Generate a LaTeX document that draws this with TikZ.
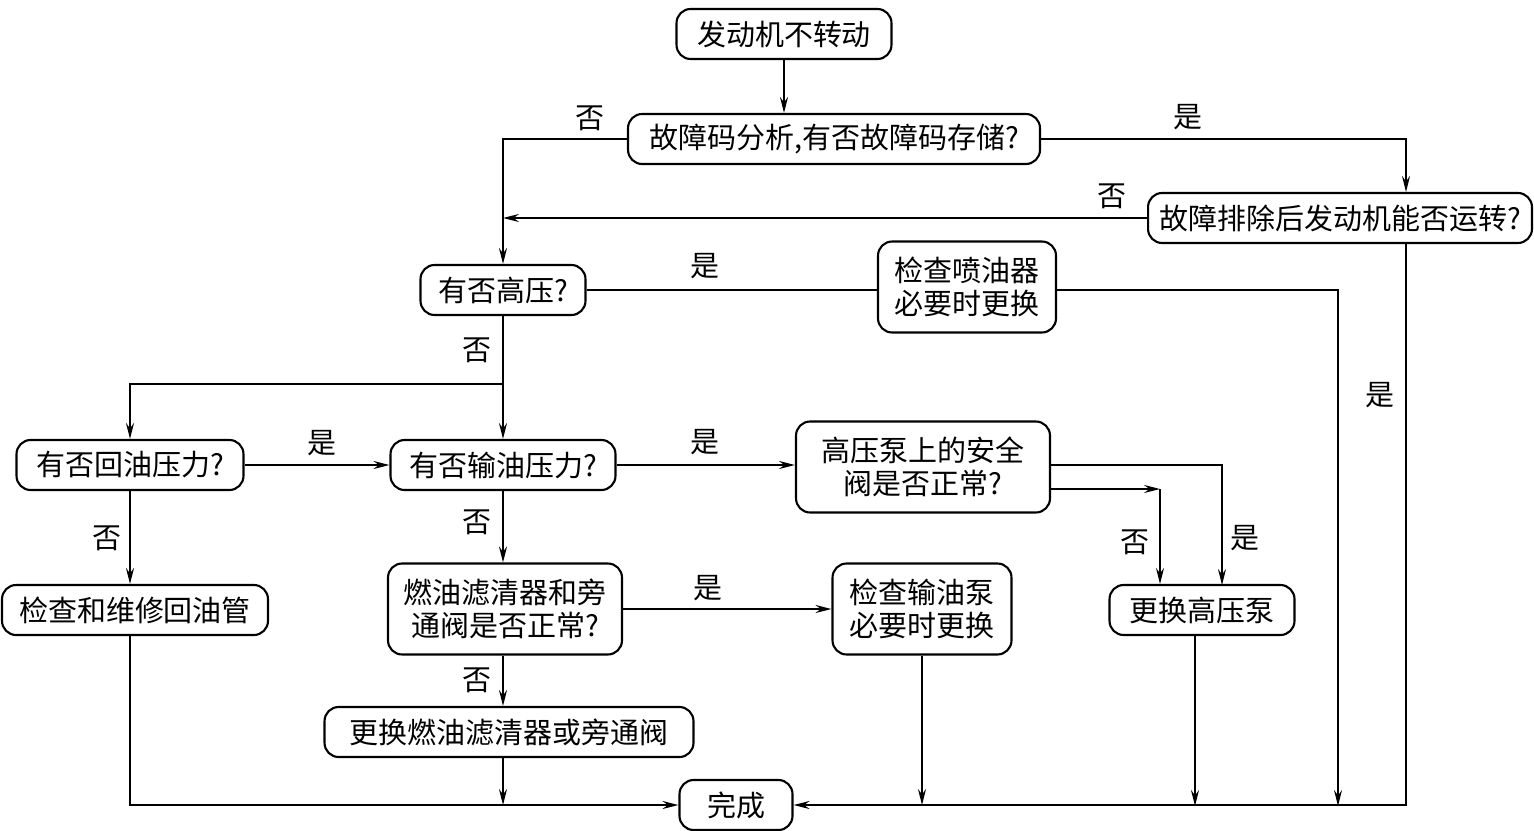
\documentclass[tikz,border=0pt]{standalone}
\usepackage{fontspec}
\newfontfamily\cjk{Noto Sans CJK SC}
\usetikzlibrary{arrows.meta}
\begin{document}
\begin{tikzpicture}[x=0.02cm,y=-0.02cm,
  every node/.style={font=\cjk\fontsize{16.5pt}{19pt}\selectfont},
  box/.style={draw,rounded corners=8pt,line width=1.2pt,align=center,inner sep=0pt,minimum height=1cm},
  tall/.style={minimum height=1.82cm},
  lbl/.style={inner sep=0pt},
  conn/.style={line width=1.1pt},
  >={Stealth[length=3.2mm,width=1.6mm,inset=1.1mm]}]
\useasboundingbox (0,0) rectangle (1534,831);
% nodes
\node[box,minimum width=4.3cm] (start) at (784,34) {发动机不转动};
\node[box,minimum width=8.24cm] (fault) at (834,139) {故障码分析,有否故障码存储?};
\node[box,minimum width=7.68cm] (after) at (1340,218) {故障排除后发动机能否运转?};
\node[box,minimum width=3.3cm] (hp) at (503,290) {有否高压?};
\node[box,tall,minimum width=3.56cm] (inj) at (967,287) {检查喷油器\\必要时更换};
\node[box,minimum width=4.54cm] (ret) at (130,465) {有否回油压力?};
\node[box,minimum width=4.5cm] (sup) at (503,465) {有否输油压力?};
\node[box,tall,minimum width=5.08cm] (safe) at (923,467) {高压泵上的安全\\阀是否正常?};
\node[box,tall,minimum width=4.68cm] (filt) at (505,609) {燃油滤清器和旁\\通阀是否正常?};
\node[box,tall,minimum width=3.58cm] (pump) at (922,609) {检查输油泵\\必要时更换};
\node[box,minimum width=3.7cm] (rhp) at (1202,610) {更换高压泵};
\node[box,minimum width=5.32cm] (rline) at (135,610) {检查和维修回油管};
\node[box,minimum width=7.38cm] (rfilt) at (509,732) {更换燃油滤清器或旁通阀};
\node[box,minimum width=2.26cm] (done) at (736,805) {完成};
% helper coordinates
\coordinate (rx) at (1406,806);
\coordinate (jx) at (1338,806);
\coordinate (br) at (503,384);
\coordinate (s1) at (1222,585);
\coordinate (s2a) at (1160,489);
\coordinate (rb) at (1195,806);
% connectors
\draw[conn,->] (start.south) -- (start.south |- fault.north);
\draw[conn,->] (fault.west) -| (hp.north);
\draw[conn,->] (fault.east) -| (after.north -| rx);
\draw[conn,->] (after.west) -- (after.west -| hp.north);
\draw[conn,->] (after.south -| rx) |- (done.east);
\draw[conn] (hp.east) -- (hp.east -| inj.west);
\draw[conn,->] (inj.east |- hp.east) -| (jx);
\draw[conn,->] (hp.south) -- (sup.north);
\draw[conn,->] (br) -| (ret.north);
\draw[conn,->] (ret.east) -- (sup.west);
\draw[conn,->] (ret.south) -- (ret.south |- rline.north);
\draw[conn,->] (ret.south |- rline.south) |- (done.west);
\draw[conn,->] (sup.east) -- (sup.east -| safe.west);
\draw[conn,->] (sup.south) -- (sup.south |- filt.north);
\draw[conn,->] (filt.east) -- (pump.west);
\draw[conn,->] (sup.south |- filt.south) -- (sup.south |- rfilt.north);
\draw[conn,->] (sup.south |- rfilt.south) -- (sup.south |- done.west);
\draw[conn,->] (pump.south) -- (pump.south |- done.west);
\draw[conn,->] (safe.east |- sup.east) -| (s1);
\draw[conn,->] (safe.east |- s2a) -- (s2a);
\draw[conn,->] (s2a) -- (s2a |- rhp.north);
\draw[conn,->] (rb |- rhp.south) -- (rb);
% labels
\node[lbl] (l1) at (590,118) {否};
\node[lbl] (l2) at (1188,117) {是};
\node[lbl] (l3) at (1112,196) {否};
\node[lbl] (l4) at (1380,395) {是};
\node[lbl] (l5) at (705,266) {是};
\node[lbl] (l6) at (477,350) {否};
\node[lbl] (l7) at (322,443) {是};
\node[lbl] (l8) at (107,538) {否};
\node[lbl] (l9) at (705,442) {是};
\node[lbl] (l10) at (477,522) {否};
\node[lbl] (l11) at (708,588) {是};
\node[lbl] (l12) at (477,680) {否};
\node[lbl] (l13) at (1245,538) {是};
\node[lbl] (l14) at (1135,542) {否};
\end{tikzpicture}
\end{document}
